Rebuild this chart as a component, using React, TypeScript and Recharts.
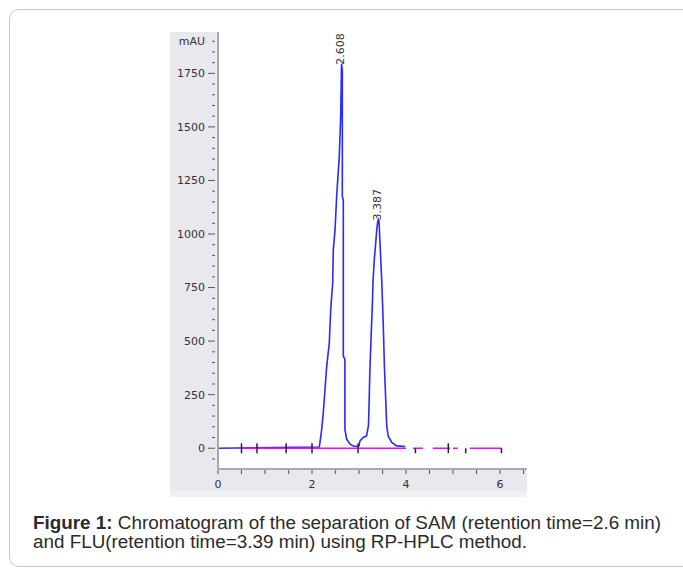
import React from 'react';
import { ComposedChart, Line, Scatter, XAxis, YAxis, CartesianGrid } from 'recharts';

// Chromatogram trace (time in min, absorbance in mAU)
const traceTime = [0, 2.155, 2.17, 2.206, 2.24, 2.277, 2.313, 2.368, 2.398, 2.44, 2.453, 2.49, 2.526, 2.58, 2.61, 2.628, 2.645, 2.645, 2.666, 2.666, 2.7, 2.7, 2.738, 2.81, 2.88, 2.95, 3.0, 3.02, 3.09, 3.16, 3.2, 3.21, 3.23, 3.255, 3.28, 3.3, 3.325, 3.355, 3.377, 3.398, 3.41, 3.426, 3.447, 3.483, 3.517, 3.54, 3.568, 3.59, 3.62, 3.696, 3.8, 3.98];
const traceMAU = [0, 6, 27, 88, 166, 275, 383, 492, 647, 771, 926, 1019, 1182, 1360, 1546, 1795, 1764, 1174, 1159, 430, 414, 88, 42, 19, 10, 8, 11, 34, 50, 57, 104, 166, 352, 507, 647, 786, 880, 957, 1019, 1058, 1068, 1058, 957, 786, 569, 383, 228, 104, 57, 27, 11, 8];

// Integration baseline segments (start, end) in min
const baselineStarts = [0.5, 4.15, 4.57, 5.0, 5.36];
const baselineEnds = [4.0, 4.36, 4.94, 5.1, 6.03];

// Integration event marks on the baseline
const eventTimes = [0.5, 0.83, 1.45, 2.0, 2.98, 4.2, 4.9, 5.27, 6.03];
const eventFull = [true, true, true, true, true, false, true, false, false];

// Peak retention times and apex heights
const peakTimes = [2.608, 3.387];
const peakHeights = [1795, 1068];
const peakLabels = ['2.608', '3.387'];

const yMajorTicks = [0, 250, 500, 750, 1000, 1250, 1500, 1750];
const yUnitTick = 1900;
const yMinorStep = 50;
const xTicks = [0, 0.5, 1, 1.5, 2, 2.5, 3, 3.5, 4, 4.5, 5, 5.5, 6, 6.5];
const xLabelTicks = [0, 2, 4, 6];

const traceData = traceTime.map((t, i) => ({ t, v: traceMAU[i] }));
const baselineData: { t: number; v: number | null }[] = [];
baselineStarts.forEach((s, i) => {
  if (i > 0) baselineData.push({ t: (baselineEnds[i - 1] + s) / 2, v: null });
  baselineData.push({ t: s, v: 0 });
  baselineData.push({ t: baselineEnds[i], v: 0 });
});
const eventData = eventTimes.map((t, i) => ({ t, v: 0, full: eventFull[i] }));
const peakData = peakTimes.map((t, i) => ({ t, v: peakHeights[i], label: peakLabels[i] }));

const yTicks: number[] = [];
for (let v = -yMinorStep; v <= yUnitTick; v += yMinorStep) yTicks.push(v);

const FONT = '"DejaVu Sans", sans-serif';

const YTick = (props: any) => {
  const { x, y, payload } = props;
  const v = payload.value;
  const major = yMajorTicks.includes(v);
  const label = v === yUnitTick ? 'mAU' : major ? String(v) : null;
  return (
    <g>
      <line x1={x - (major ? 10 : 6)} x2={x - 3} y1={y} y2={y} stroke="#555" strokeWidth={1} />
      {label && (
        <text x={x - 13} y={y} dy="0.35em" textAnchor="end" fontSize={11} fontFamily={FONT} fill="#333">
          {label}
        </text>
      )}
    </g>
  );
};

const XTick = (props: any) => {
  const { x, y, payload } = props;
  const v = payload.value;
  const label = xLabelTicks.includes(v) ? String(v) : null;
  return (
    <g>
      <line x1={x} x2={x} y1={y + 1} y2={y + 5} stroke="#666" strokeWidth={1.2} />
      {label && (
        <text x={x} y={y + 15} dy="0.35em" textAnchor="middle" fontSize={11} fontFamily={FONT} fill="#333">
          {label}
        </text>
      )}
    </g>
  );
};

const EventMark = (props: any) => {
  const { cx, cy, payload } = props;
  return (
    <line x1={cx} x2={cx} y1={payload.full ? cy - 5 : cy} y2={cy + 5} stroke="#222" strokeWidth={1.5} />
  );
};

const PeakLabel = (props: any) => {
  const { cx, cy, payload } = props;
  const ty = cy + 1;
  return (
    <text
      x={cx}
      y={ty}
      transform={`rotate(-90 ${cx} ${ty})`}
      textAnchor="start"
      dominantBaseline="central"
      fontSize={11}
      fontFamily={FONT}
      fill="#333"
    >
      {payload.label}
    </text>
  );
};

export default function App() {
  return (
    <div style={{ position: 'absolute', left: 0, top: 0, width: 683, height: 570, overflow: 'hidden', background: '#fff' }}>
      <style>{`.recharts-surface { overflow: visible; }`}</style>
      <div
        style={{
          position: 'absolute',
          left: 9,
          top: 9,
          width: 700,
          height: 558,
          border: '1.5px solid #c8c8c8',
          borderRadius: 10,
          boxSizing: 'border-box',
        }}
      />
      <div style={{ position: 'absolute', left: 170, top: 32, width: 357, height: 459, background: '#e9e8ee' }} />
      <div style={{ position: 'absolute', left: 170, top: 491, width: 357, height: 6, background: '#f1f1f4' }} />
      <div style={{ position: 'absolute', left: 170, top: 32 }}>
        <ComposedChart width={357} height={465} margin={{ top: 0, right: 0, bottom: 0, left: 0 }}>
          <CartesianGrid fill="#ffffff" horizontal={false} vertical={false} />
          <XAxis
            type="number"
            dataKey="t"
            domain={[0, 6.574]}
            allowDataOverflow
            ticks={xTicks}
            height={28}
            tickLine={false}
            tickSize={0}
            tickMargin={0}
            tick={<XTick />}
            axisLine={{ stroke: '#a8a8a8', strokeWidth: 2 }}
            interval={0}
          />
          <YAxis
            type="number"
            dataKey="v"
            domain={[-97, 1943]}
            allowDataOverflow
            ticks={yTicks}
            width={48}
            tickLine={false}
            tickSize={0}
            tickMargin={0}
            tick={<YTick />}
            axisLine={{ stroke: '#a8a8a8', strokeWidth: 2 }}
            interval={0}
          />
          <Line
            data={traceData}
            dataKey="v"
            type="linear"
            stroke="#2a2aff"
            strokeWidth={1.6}
            dot={false}
            isAnimationActive={false}
          />
          <Line
            data={baselineData}
            dataKey="v"
            type="linear"
            stroke="#ff00ff"
            strokeWidth={1.4}
            dot={false}
            connectNulls={false}
            isAnimationActive={false}
          />
          <Scatter data={eventData} dataKey="v" shape={<EventMark />} isAnimationActive={false} />
          <Scatter data={peakData} dataKey="v" shape={<PeakLabel />} isAnimationActive={false} />
        </ComposedChart>
      </div>
      <div
        style={{
          position: 'absolute',
          left: 33,
          top: 514,
          whiteSpace: 'nowrap',
          fontFamily: '"Liberation Sans", Arial, sans-serif',
          fontSize: 17.5,
          lineHeight: '19px',
          color: '#2b2b2b',
          transform: 'scaleX(1.077)',
          transformOrigin: '0 0',
        }}
      >
        <b>Figure 1:</b> Chromatogram of the separation of SAM (retention time=2.6 min)
        <br />
        and FLU(retention time=3.39 min) using RP-HPLC method.
      </div>
    </div>
  );
}
